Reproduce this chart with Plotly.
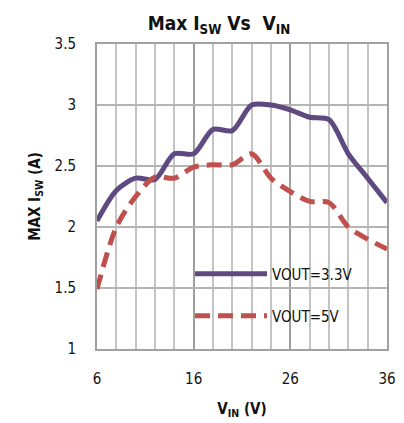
import plotly.graph_objects as go

vin = [6, 8, 10, 12, 14, 16, 18, 20, 22, 24, 26, 28, 30, 32, 34, 36]
isw_3v3 = [2.05, 2.30, 2.40, 2.39, 2.60, 2.60, 2.80, 2.79, 3.00, 3.00, 2.96, 2.90, 2.88, 2.60, 2.40, 2.20]
isw_5v = [1.49, 2.00, 2.25, 2.41, 2.40, 2.49, 2.51, 2.51, 2.60, 2.40, 2.29, 2.21, 2.20, 2.00, 1.90, 1.82]
names = ["VOUT=3.3V", "VOUT=5V"]
x_ticks = [6, 16, 26, 36]
y_ticks = [1, 1.5, 2, 2.5, 3, 3.5]

FONT = "DejaVu Sans Condensed, DejaVu Sans, sans-serif"

# page body has a default 8px margin; size the figure so it fits the 404x423 window
W, H = 396, 415

fig = go.Figure()
fig.add_trace(go.Scatter(x=vin, y=isw_3v3, name=names[0], mode="lines", legend="legend",
                         line=dict(color="#5E4A80", width=5, shape="spline", smoothing=0.8)))
fig.add_trace(go.Scatter(x=vin, y=isw_5v, name=names[1], mode="lines", legend="legend2",
                         line=dict(color="#C0504D", width=5, shape="spline", smoothing=0.8,
                                   dash="15px,8px")))

legend_common = dict(xanchor="left", yanchor="middle", bgcolor="rgba(0,0,0,0)",
                     font=dict(size=15, family=FONT), itemwidth=72)

fig.update_layout(
    width=W, height=H,
    margin=dict(l=89, r=17, t=36, b=74),
    paper_bgcolor="white", plot_bgcolor="white",
    font=dict(family=FONT, color="#111111", size=15),
    title=dict(text="<b>Max I<sub>SW</sub> Vs  V<sub>IN</sub></b>", x=211 / W, xanchor="center",
               y=1 - 15 / H, yanchor="middle", font=dict(size=19, family=FONT)),
    showlegend=True,
    legend=dict(x=(190 - 97) / 290, y=(349 - 274) / 305, **legend_common),
    legend2=dict(x=(190 - 97) / 290, y=(349 - 316) / 305, **legend_common),
    xaxis=dict(range=[6, 36], tickvals=x_ticks, ticks="", showgrid=True,
               gridcolor="#9E9E9E", gridwidth=2, automargin=False,
               minor=dict(dtick=2, tick0=6, showgrid=True, gridcolor="#C4C4C4", gridwidth=2),
               showline=True, linecolor="#A0A0A0", linewidth=2, mirror=True,
               zeroline=False, ticklabelstandoff=15,
               title=dict(text="<b>V<sub>IN</sub> (V)</b>", font=dict(size=15, family=FONT), standoff=16)),
    yaxis=dict(range=[1, 3.5], tickvals=y_ticks, ticktext=["1", "1.5", "2", "2.5", "3", "3.5"],
               ticks="", showgrid=True, gridcolor="#B4B4B4", gridwidth=2, automargin=False,
               showline=True, linecolor="#A0A0A0", linewidth=2, mirror=True,
               zeroline=False, ticklabelstandoff=16,
               title=dict(text="<b>MAX I<sub>SW</sub> (A)</b>", font=dict(size=15, family=FONT), standoff=10)),
)
try:
    fig.update_layout(font_stretch="condensed")
    fig.update_layout(title_font_stretch="condensed", legend_font_stretch="condensed",
                      legend2_font_stretch="condensed")
except Exception:
    pass

fig.write_html("out.html")
